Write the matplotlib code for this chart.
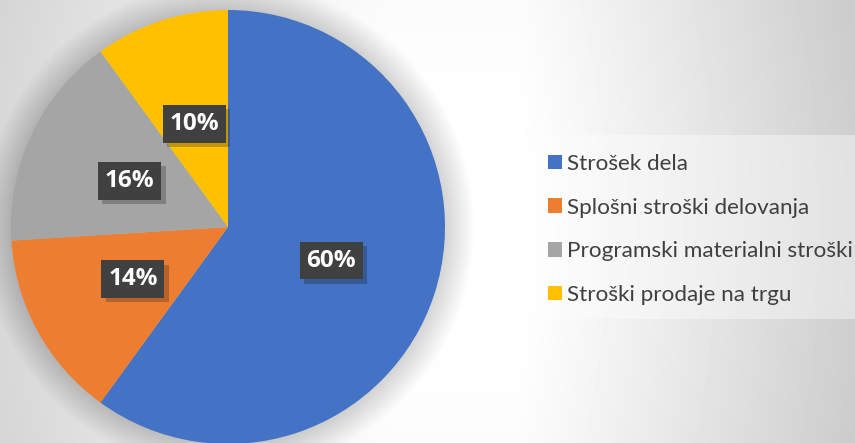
import numpy as np
import matplotlib.pyplot as plt
from matplotlib import patheffects
from matplotlib.patches import Circle, Rectangle

# ---- data ----
categories = [
    "Strošek dela",
    "Splošni stroški delovanja",
    "Programski materialni stroški",
    "Stroški prodaje na trgu",
]
shares = [60, 14, 16, 10]
colors = ["#4472C4", "#ED7D31", "#A5A5A5", "#FFC000"]

W, H = 855, 443

fig = plt.figure(figsize=(W / 100, H / 100), dpi=100)
ax = fig.add_axes([0, 0, 1, 1])

# slide-like background: white band in the middle, grey towards the sides
xx, yy = np.meshgrid(np.arange(W) + 0.5, np.arange(H) + 0.5)
dx = xx - 450.0
left = np.clip((-dx - 60) / 390, 0, 1) ** 1.2 * 0.15
right = np.clip((dx - 70) / 335, 0, 1) ** 1.1 * 0.19
vert = ((yy - 230) / 260) ** 2 * 0.02
bg = np.clip(1 - left - right - vert, 0, 1)
ax.imshow(bg, cmap="gray", vmin=0, vmax=1, extent=(0, W, 0, H),
          origin="upper", interpolation="nearest", zorder=0)

cx, cy, R = 228, H - 227, 217

# soft glow/shadow round the pie
for k in range(1, 22):
    ax.add_patch(Circle((cx, cy), R + k * 1.4, color="black", alpha=0.007,
                        lw=0, zorder=1))

# legend backdrop
ax.add_patch(Rectangle((536, H - 319), 330, 184, facecolor="white",
                       alpha=0.4, lw=0, zorder=1))

wedges, texts, autotexts = ax.pie(
    shares, colors=colors, startangle=90, counterclock=False,
    center=(cx, cy), radius=R, autopct="%1.0f%%", pctdistance=0.5,
    wedgeprops=dict(linewidth=0),
    textprops=dict(color="white", fontweight="bold", fontsize=17.5,
                   family="Open Sans"),
)
for w in wedges:
    w.set_zorder(2)

for t in autotexts:
    t.set_zorder(5)
    t.set_bbox(dict(boxstyle="square,pad=0.28", facecolor="#404040",
                    edgecolor="none"))
    t.get_bbox_patch().set_path_effects([
        patheffects.SimplePatchShadow(offset=(3, -3), alpha=0.25),
        patheffects.Normal(),
    ])

ax.set_xlim(0, W)
ax.set_ylim(0, H)
ax.set_aspect("auto")
ax.axis("off")

fig.legend(
    wedges, categories, loc="center left",
    bbox_to_anchor=(548 / W, 1 - 229.5 / H),
    frameon=False, prop=dict(family="Lato", size=16.2),
    handlelength=0.62, handleheight=0.62, handletextpad=0.22,
    labelspacing=1.05, borderpad=0, borderaxespad=0, labelcolor="#404040",
)

fig.savefig("out.png", dpi=100)
